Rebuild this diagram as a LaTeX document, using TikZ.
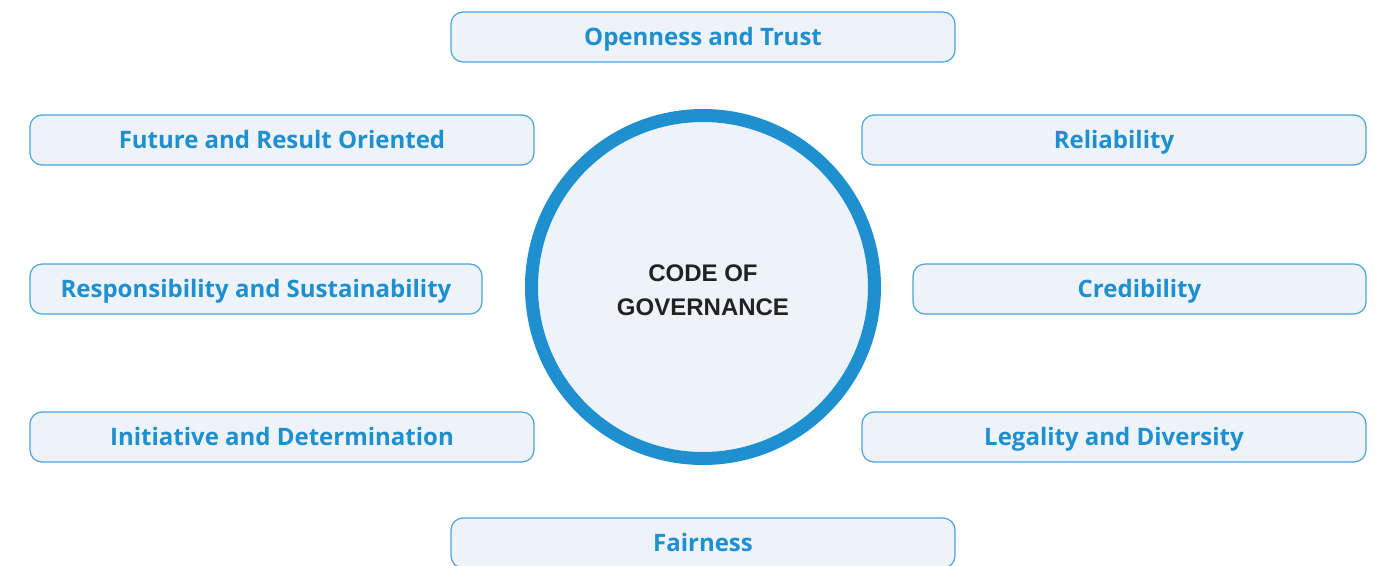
\documentclass[tikz,border=0pt]{standalone}
\usepackage{fontspec}
\setmainfont{Open Sans}
\newfontfamily\circfont{Liberation Sans}
\definecolor{boxfill}{HTML}{EEF3FA}
\definecolor{boxline}{HTML}{4AA3DC}
\definecolor{boxtext}{HTML}{1E8FCF}
\definecolor{ring}{HTML}{1E90D0}
\definecolor{darktext}{HTML}{222222}
\begin{document}
\begin{tikzpicture}[x=1pt,y=-1pt,
  valuebox/.style={draw=boxline, fill=boxfill, line width=1.2pt, rounded corners=12pt,
    minimum height=50pt, inner sep=0pt, text height=17pt, text depth=0pt,
    font=\fontsize{24}{28}\selectfont\bfseries, text=boxtext},
  hub/.style={circle, draw=ring, fill=boxfill, line width=13pt, minimum size=343pt, inner sep=0pt,
    font=\circfont\fontsize{24}{34}\selectfont\bfseries, text=darktext, align=center}]
\useasboundingbox (0,0) rectangle (1384,565);
\node[hub] (c) at (703,287) {};
\node[font=\circfont\fontsize{24}{34}\selectfont\bfseries, text=darktext, align=center,
  inner sep=0pt] (ct) at (703,290) {CODE OF\\GOVERNANCE};
\node[valuebox, minimum width=504pt] (t) at (703,37) {Openness and Trust};
\node[valuebox, minimum width=504pt] (fr) at (282,140) {Future and Result Oriented};
\node[valuebox, minimum width=504pt] (rel) at (1114,140) {Reliability};
\node[valuebox, minimum width=452pt] (rs) at (256,289) {Responsibility and Sustainability};
\node[valuebox, minimum width=453pt] (cr) at (1139.5,289) {Credibility};
\node[valuebox, minimum width=504pt] (in) at (282,437) {Initiative and Determination};
\node[valuebox, minimum width=504pt] (lg) at (1114,437) {Legality and Diversity};
\node[valuebox, minimum width=504pt] (fa) at (703,543) {Fairness};
\end{tikzpicture}
\end{document}
